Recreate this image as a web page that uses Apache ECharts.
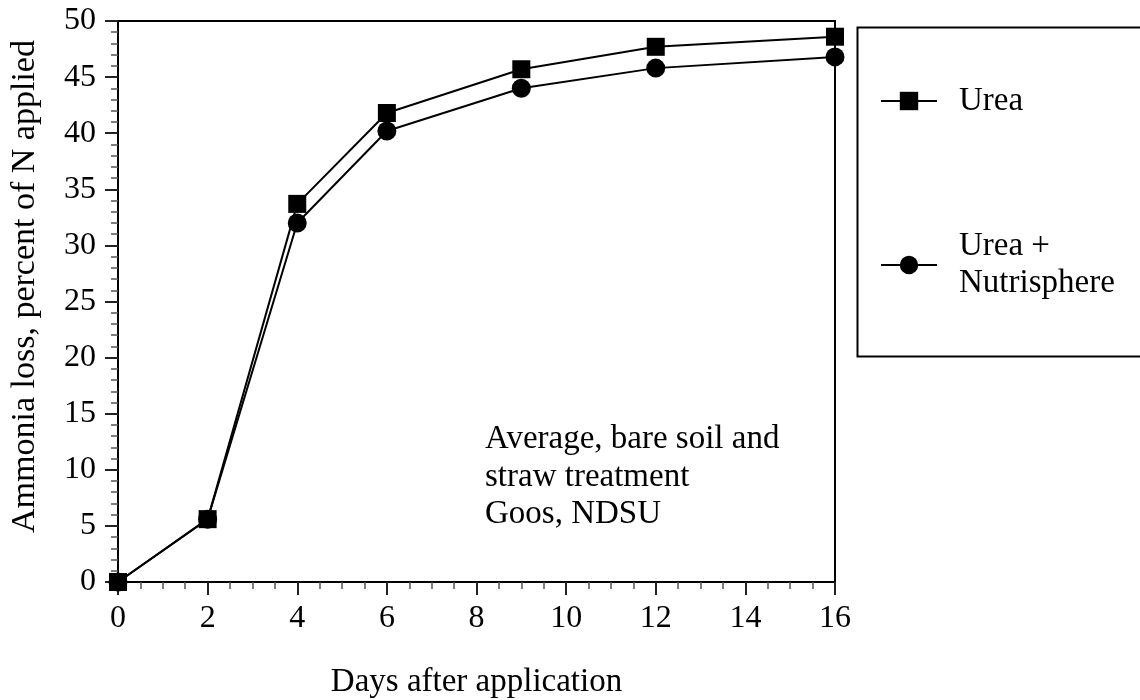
<!DOCTYPE html>
<html><head><meta charset="utf-8">
<script src="https://cdn.jsdelivr.net/npm/echarts@6/dist/echarts.min.js"></script>
<style>html,body{margin:0;padding:0;background:#fff}#c{width:1140px;height:700px}</style>
</head><body><div id="c"></div>
<script>
var days = [0, 2, 4, 6, 9, 12, 16];
var urea = [0, 5.6, 33.7, 41.8, 45.7, 47.7, 48.6];
var ureaNutrisphere = [0, 5.6, 32.0, 40.2, 44.0, 45.8, 46.8];
var seriesNames = ['Urea', 'Urea +\nNutrisphere'];
var xTitle = 'Days after application';
var yTitle = 'Ammonia loss, percent of N applied';
var note = 'Average, bare soil and\nstraw treatment\nGoos, NDSU';

var font = '"Liberation Serif","Times New Roman",serif';
function pairs(xs, ys){ return xs.map(function(x,i){return [x, ys[i]];}); }

var chart = echarts.init(document.getElementById('c'));
chart.setOption({
  animation: false,
  backgroundColor: '#fff',
  grid: {left: 118, top: 21, right: 305, bottom: 118, outerBoundsMode: 'none', containLabel: false,
         show: true, borderColor: '#000', borderWidth: 2, backgroundColor: 'transparent'},
  xAxis: {
    type: 'value', min: 0, max: 16, interval: 2,
    name: xTitle, nameLocation: 'middle', nameGap: 84,
    nameTextStyle: {fontFamily: font, fontSize: 33, color: '#000'},
    axisLine: {show: true, onZero: false, lineStyle: {color: '#000', width: 2}},
    axisTick: {show: true, length: 13, lineStyle: {color: '#222', width: 2}},
    minorTick: {show: true, splitNumber: 4, length: 7, lineStyle: {color: '#555', width: 1.5}},
    axisLabel: {fontFamily: font, fontSize: 32, color: '#000', margin: 21},
    splitLine: {show: false}
  },
  yAxis: {
    type: 'value', min: 0, max: 50, interval: 5,
    name: yTitle, nameLocation: 'middle', nameGap: 76,
    nameTextStyle: {fontFamily: font, fontSize: 34, color: '#000', padding: [0, 0, 0, 30]},
    axisLine: {show: true, onZero: false, lineStyle: {color: '#000', width: 2}},
    axisTick: {show: true, length: 13, lineStyle: {color: '#222', width: 2}},
    minorTick: {show: true, splitNumber: 5, length: 7, lineStyle: {color: '#555', width: 1.5}},
    axisLabel: {fontFamily: font, fontSize: 32, color: '#000', margin: 22},
    splitLine: {show: false}
  },
  legend: [
    {data: [seriesNames[0]], left: 880, top: 83, padding: 0, orient: 'vertical', itemWidth: 56, itemHeight: 23,
     textStyle: {fontFamily: font, fontSize: 33, color: '#000', lineHeight: 36, padding: [0,0,0,17]}},
    {data: [seriesNames[1]], left: 880, top: 228, padding: 0, orient: 'vertical', itemWidth: 56, itemHeight: 23,
     textStyle: {fontFamily: font, fontSize: 33, color: '#000', lineHeight: 37, padding: [0,0,0,17]}}
  ],
  graphic: [
    {type: 'rect', left: 855, top: 25, shape: {width: 300, height: 329}, style: {fill: 'none', stroke: '#000', lineWidth: 2}},
    {type: 'text', left: 485, top: 421, style: {text: note, font: '33px ' + font, fill: '#000', lineHeight: 37.5}}
  ],
  series: [
    {name: seriesNames[1], type: 'line', data: pairs(days, ureaNutrisphere), symbol: 'circle', symbolSize: 19,
     clip: false, lineStyle: {color: '#000', width: 2}, itemStyle: {color: '#000'}, z: 2},
    {name: seriesNames[0], type: 'line', data: pairs(days, urea), symbol: 'rect', symbolSize: 18,
     clip: false, lineStyle: {color: '#000', width: 2}, itemStyle: {color: '#000'}, z: 3}
  ]
});
</script></body></html>
